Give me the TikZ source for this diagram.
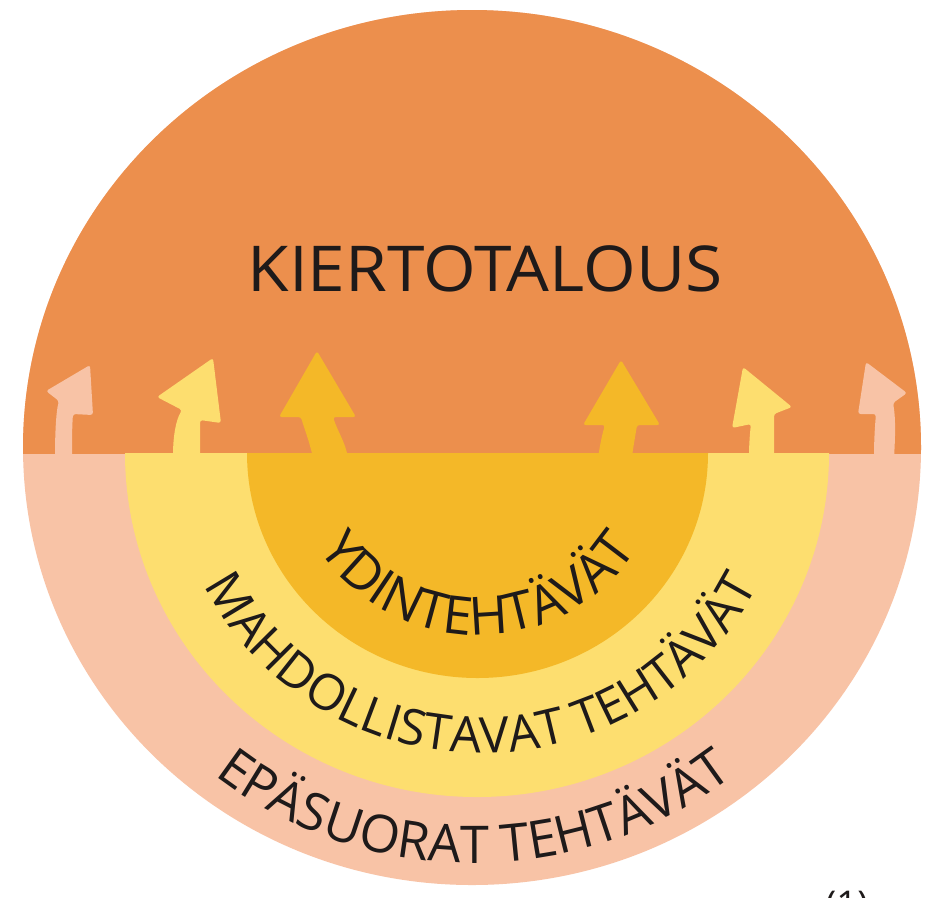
\documentclass[tikz,border=0pt]{standalone}
\usepackage{fontspec}
\setmainfont{Open Sans}
\usetikzlibrary{decorations.text}
\definecolor{orng}{HTML}{EC8F4D}
\definecolor{salm}{HTML}{F8C3A6}
\definecolor{yell}{HTML}{FDDE6F}
\definecolor{gold}{HTML}{F4B828}
\definecolor{ink}{HTML}{1E1A1A}
\tikzset{
  arr/.style={rounded corners=1.5pt},
  curvedtext/.style={decorate, decoration={text along path, text align=center, text color=ink}},
}
\begin{document}
\begin{tikzpicture}[x=0.02cm,y=0.02cm]
\path[use as bounding box] (0,0) rectangle (932,-897);
\clip (0,0) rectangle (932,-897);
\fill[white] (0,0) rectangle (932,-897);
% outer disc
\fill[salm] (472,-447.5) ellipse[x radius=449, y radius=437.5];
\begin{scope}
  \clip (0,0) rectangle (932,-453);
  \fill[orng] (472,-447.5) ellipse[x radius=449, y radius=437.5];
\end{scope}
\begin{scope}
  \clip (0,-453) rectangle (932,-897);
  \fill[yell] (477,-453) ellipse[x radius=352, y radius=344];
  \fill[gold] (477.5,-453) ellipse[x radius=230.5, y radius=225];
\end{scope}
% arrows
\fill[salm,arr] (90,-365) -- (93,-415) -- (73,-414) .. controls (72,-428) and (72,-442) .. (72,-458) -- (55,-458) .. controls (55,-435) and (56,-412) .. (59,-401) -- (46,-391) -- cycle;
\fill[yell,arr] (213,-358) -- (221,-423) -- (200,-420) -- (200,-458) -- (173,-458) .. controls (173,-436) and (176,-420) .. (182,-410) -- (157,-397) -- cycle;
\fill[gold,arr] (317,-351) -- (356,-417) -- (333,-417) .. controls (338,-432) and (345,-442) .. (348,-458) -- (313,-458) .. controls (309,-440) and (304,-428) .. (301,-417) -- (279,-417) -- cycle;
\fill[gold,arr] (621,-360) -- (660,-425) -- (637,-425) .. controls (635,-438) and (633,-448) .. (632,-458) -- (598,-458) .. controls (600,-445) and (602,-435) .. (605,-425) -- (583,-425) -- cycle;
\fill[yell,arr] (743,-367) -- (792,-407) -- (774,-414) -- (774,-458) -- (749,-458) .. controls (749,-445) and (750,-432) .. (751,-424) -- (732,-428) -- cycle;
\fill[salm,arr] (866,-362) -- (907,-393) -- (893,-403) .. controls (896,-420) and (895,-440) .. (894,-458) -- (874,-458) .. controls (874,-440) and (875,-425) .. (876,-414) -- (858,-414) -- cycle;
% texts
\node[font=\fontsize{36pt}{42pt}\selectfont, text=ink, anchor=base, inner sep=0] (title) at (485,-291) {\scalebox{1.07}[1]{KIERTOTALOUS}};
\path[curvedtext, decoration={text={|\fontsize{30pt}{32pt}\selectfont|YDINTEHTÄVÄT}}]
  (291,-453) arc[start angle=180, end angle=360, x radius=187, y radius=182];
\path[curvedtext, decoration={text={|\fontsize{28.3pt}{30pt}\selectfont|MAHDOLLISTAVAT TEHTÄVÄT}}]
  (173,-453) arc[start angle=180, end angle=360, x radius=308, y radius=300];
\path[curvedtext, decoration={text={|\fontsize{29.6pt}{31pt}\selectfont|EPÄSUORAT TEHTÄVÄT}}]
  (54,-453) arc[start angle=180, end angle=360, x radius=420, y radius=410];
\node[font=\fontsize{21pt}{24pt}\selectfont, text=ink, anchor=north west, inner sep=0] (note) at (825,-891) {(1)};
\end{tikzpicture}
\end{document}
